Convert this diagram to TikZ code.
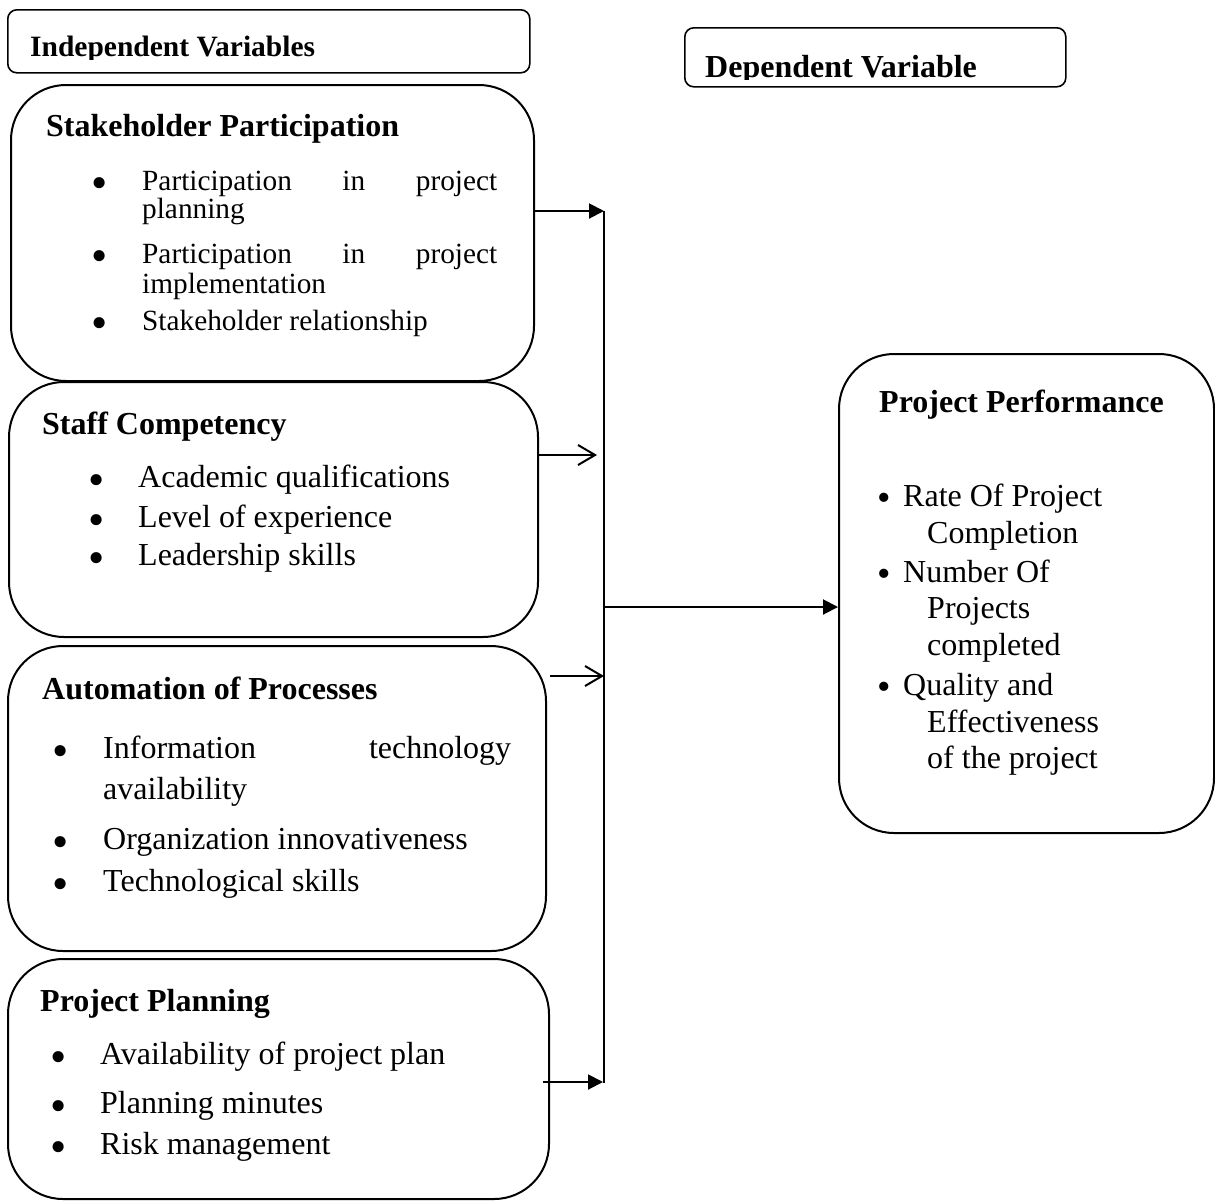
\documentclass[tikz,border=0pt]{standalone}
\usepackage{fontspec}
\setmainfont{Liberation Serif}
\usetikzlibrary{arrows.meta}
\newcommand{\mybigbullet}{\smash{\raisebox{-8pt}{\scalebox{1.45}{\textbullet}}}}
\newcommand{\mysmallbullet}{\smash{\raisebox{-4pt}{\scalebox{1.2}{\textbullet}}}}
\begin{document}
\begin{tikzpicture}[x=1pt,y=-1pt,
  box/.style={draw, line width=2pt, rounded corners=55pt, inner sep=0pt, anchor=north west},
  hbox/.style={draw, line width=1.6pt, rounded corners=9pt, inner sep=0pt, anchor=north west},
  head/.style={anchor=base west, inner sep=0pt, font=\fontsize{32}{38}\selectfont\bfseries},
  shead/.style={anchor=base west, inner sep=0pt, font=\fontsize{29.5}{35}\selectfont\bfseries},
  txt/.style={anchor=base west, inner sep=0pt, font=\fontsize{32}{38}\selectfont},
  stxt/.style={anchor=base west, inner sep=0pt, font=\fontsize{29.3}{35}\selectfont},
  bul/.style={anchor=base, inner sep=0pt, font=\fontsize{32}{38}\selectfont},
  conn/.style={line width=2pt},
  fillarr/.style={line width=2pt, -{Triangle[length=15pt,width=15pt]}},
  openarr/.style={line width=2pt, -{Straight Barb[length=17pt,width=20pt,line width=2pt]}}
]
\useasboundingbox (0,0) rectangle (1215,1203);

% header boxes
\node[hbox, minimum width=522pt, minimum height=63pt] (ivb) at (7,9) {};
\begin{scope}
  \clip (7,9) rectangle (529,59);
  \node[shead] (ivt) at (30,56) {Independent Variables};
\end{scope}
\node[hbox, minimum width=381pt, minimum height=59pt] (dvb) at (684,27) {};
\begin{scope}
  \clip (684,27) rectangle (1065,79);
  \node[head] (dvt) at (705,77) {Dependent Variable};
\end{scope}

% Stakeholder Participation
\node[box, minimum width=523pt, minimum height=296pt] (sp) at (10,84) {};
\node[head] (spt) at (46,136) {Stakeholder Participation};
\node[bul] (spb1) at (100,190) {\mybigbullet};
\node[stxt] (sp1) at (142,190) {\makebox[355pt][s]{Participation in project}};
\node[stxt] (sp2) at (142,218) {planning};
\node[bul] (spb2) at (100,263) {\mybigbullet};
\node[stxt] (sp3) at (142,263) {\makebox[355pt][s]{Participation in project}};
\node[stxt] (sp4) at (142,293) {implementation};
\node[bul] (spb3) at (100,330) {\mybigbullet};
\node[stxt] (sp5) at (142,330) {Stakeholder relationship};

% Staff Competency
\node[box, minimum width=529pt, minimum height=255pt] (sc) at (8,381) {};
\node[head] (sct) at (42,434) {Staff Competency};
\node[bul] (scb1) at (97,487) {\mybigbullet};
\node[txt] (sc1) at (138,487) {Academic qualifications};
\node[bul] (scb2) at (97,527) {\mybigbullet};
\node[txt] (sc2) at (138,527) {Level of experience};
\node[bul] (scb3) at (97,565) {\mybigbullet};
\node[txt] (sc3) at (138,565) {Leadership skills};

% Automation of Processes
\node[box, minimum width=538pt, minimum height=305pt] (ap) at (7,645) {};
\node[head] (apt) at (42,699) {Automation of Processes};
\node[bul] (apb1) at (61,758) {\mybigbullet};
\node[txt] (ap1) at (103,758) {\makebox[408pt][s]{Information technology}};
\node[txt] (ap2) at (103,799) {availability};
\node[bul] (apb2) at (61,849) {\mybigbullet};
\node[txt] (ap3) at (103,849) {Organization innovativeness};
\node[bul] (apb3) at (61,891) {\mybigbullet};
\node[txt] (ap4) at (103,891) {Technological skills};

% Project Planning
\node[box, minimum width=541pt, minimum height=240pt] (pp) at (7,958) {};
\node[head] (ppt) at (40,1011) {Project Planning};
\node[bul] (ppb1) at (59,1064) {\mybigbullet};
\node[txt] (pp1) at (100,1064) {Availability of project plan};
\node[bul] (ppb2) at (59,1113) {\mybigbullet};
\node[txt] (pp2) at (100,1113) {Planning minutes};
\node[bul] (ppb3) at (59,1154) {\mybigbullet};
\node[txt] (pp3) at (100,1154) {Risk management};

% Project Performance
\node[box, minimum width=375pt, minimum height=479pt] (pf) at (838,353) {};
\node[head] (pft) at (879,412) {Project Performance};
\node[bul] (pfb1) at (884,506) {\mysmallbullet};
\node[txt] (pf1) at (903,506) {Rate Of Project};
\node[txt] (pf2) at (927,543) {Completion};
\node[bul] (pfb2) at (884,582) {\mysmallbullet};
\node[txt] (pf3) at (903,582) {Number Of};
\node[txt] (pf4) at (927,618) {Projects};
\node[txt] (pf5) at (927,655) {completed};
\node[bul] (pfb3) at (884,695) {\mysmallbullet};
\node[txt] (pf6) at (903,695) {Quality and};
\node[txt] (pf7) at (927,732) {Effectiveness};
\node[txt] (pf8) at (927,768) {of the project};

% connectors
\coordinate (bt) at (604,211);
\coordinate (bb) at (604,1083);
\coordinate (bm) at (604,607);
\coordinate (a2e) at (597,455);
\coordinate (a3s) at (550,676);
\coordinate (a3e) at (604,676);
\coordinate (a4s) at (543,1082);
\coordinate (a4e) at (603,1082);
\draw[conn] (bt) -- (bb);
\draw[fillarr] (sp.east |- bt) -- (bt);
\draw[openarr] (sc.east |- a2e) -- (a2e);
\draw[openarr] (a3s) -- (a3e);
\draw[fillarr] (a4s) -- (a4e);
\draw[fillarr] (bm) -- (pf.west |- bm);
\end{tikzpicture}
\end{document}
